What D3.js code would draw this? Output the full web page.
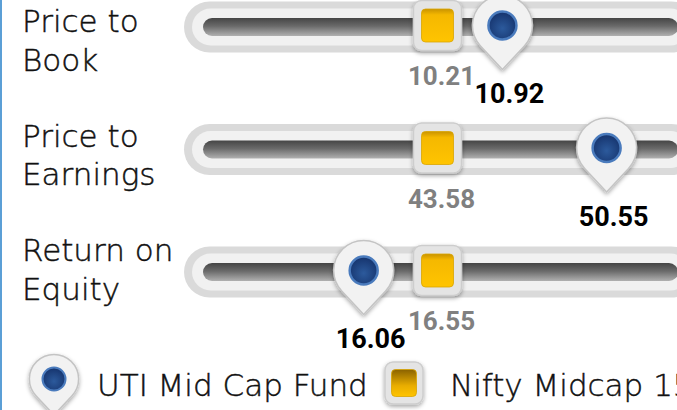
<!DOCTYPE html>
<html lang="en">
<head>
  <meta charset="UTF-8">
  <title>Valuation sliders</title>
  <script src="https://d3js.org/d3.v7.min.js"></script>
  <style>
    body { margin: 0; background: #fff; }
    svg { display: block; }
    .label { font-family: "DejaVu Sans ExtraLight", "DejaVu Sans", sans-serif; font-weight: 200; font-size: 31px; fill: #111; stroke: #111; stroke-width: 0.45; }
    .val { font-family: Roboto, "Liberation Sans", sans-serif; font-weight: 700; }
  </style>
</head>
<body>
<div id="chart"></div>
<script>
// data
const metrics = ["Price to Book", "Price to Earnings", "Return on Equity"];
const labelLines = [["Price to", "Book"], ["Price to", "Earnings"], ["Return on", "Equity"]];
const fundValues = [10.92, 50.55, 16.06];   // UTI Mid Cap Fund
const benchValues = [10.21, 43.58, 16.55];  // Nifty Midcap 150
const domainMin = [7.69, 34.08, 15.02];
const domainMax = [12.73, 53.08, 18.08];
const seriesNames = ["UTI Mid Cap Fund", "Nifty Midcap 150"];

const width = 677;
const height = 410;

const svg = d3.select("#chart")
  .append("svg")
  .attr("width", width)
  .attr("height", height);

const defs = svg.append("defs");

// groove gradient
const groove = defs.append("linearGradient")
  .attr("id", "groove").attr("x1", 0).attr("y1", 0).attr("x2", 0).attr("y2", 1);
groove.append("stop").attr("offset", "0%").attr("stop-color", "#454545");
groove.append("stop").attr("offset", "45%").attr("stop-color", "#6a6a6a");
groove.append("stop").attr("offset", "100%").attr("stop-color", "#b0b0b0");

// yellow gradients
const yel = defs.append("linearGradient")
  .attr("id", "yel").attr("x1", 0).attr("y1", 0).attr("x2", 0).attr("y2", 1);
yel.append("stop").attr("offset", "0%").attr("stop-color", "#c99300");
yel.append("stop").attr("offset", "18%").attr("stop-color", "#f5b800");
yel.append("stop").attr("offset", "100%").attr("stop-color", "#ffc400");

const yelLeg = defs.append("linearGradient")
  .attr("id", "yelLeg").attr("x1", 0).attr("y1", 0).attr("x2", 0).attr("y2", 1);
yelLeg.append("stop").attr("offset", "0%").attr("stop-color", "#8a6200");
yelLeg.append("stop").attr("offset", "60%").attr("stop-color", "#e9ad00");
yelLeg.append("stop").attr("offset", "100%").attr("stop-color", "#ffc400");

// blue dot
const blue = defs.append("radialGradient")
  .attr("id", "blue").attr("cx", "50%").attr("cy", "60%").attr("r", "55%");
blue.append("stop").attr("offset", "0%").attr("stop-color", "#2c5a9c");
blue.append("stop").attr("offset", "100%").attr("stop-color", "#173670");

// drop shadow
const shadow = defs.append("filter")
  .attr("id", "shadow").attr("x", "-30%").attr("y", "-30%").attr("width", "160%").attr("height", "160%");
shadow.append("feDropShadow")
  .attr("dx", 0).attr("dy", 2).attr("stdDeviation", 2)
  .attr("flood-color", "#000").attr("flood-opacity", 0.35);

// left border
svg.append("rect")
  .attr("x", 0).attr("y", 0).attr("width", 2).attr("height", height)
  .attr("fill", "#5b9fd6");

// scales
const y = d3.scalePoint().domain(metrics).range([27, 272]);
const yLabel = d3.scalePoint().domain(metrics).range([32, 261]);
const xRange = [207, 668];
const xScales = metrics.map((m, i) =>
  d3.scaleLinear().domain([domainMin[i], domainMax[i]]).range(xRange));

// pin path
function pinPath(cx, cy, R, d) {
  const a = Math.acos(R / d);
  const lx = cx - R * Math.sin(a), rx = cx + R * Math.sin(a);
  const ty = cy + R * Math.cos(a);
  return `M${lx},${ty} A${R},${R} 0 1 1 ${rx},${ty} L${cx},${cy + d} Z`;
}

function drawPin(g, cx, cy, s) {
  g.append("path")
    .attr("d", pinPath(cx, cy, 30 * s, 44 * s))
    .attr("fill", "#f2f2f2")
    .attr("stroke", "#c4c4c4")
    .attr("stroke-width", 1.5)
    .attr("filter", "url(#shadow)");
  g.append("circle")
    .attr("cx", cx).attr("cy", cy).attr("r", 14 * s)
    .attr("fill", "url(#blue)")
    .attr("stroke", "#4a7bbd")
    .attr("stroke-width", 2.5 * s);
}

function drawSquare(g, cx, cy, w, h, iw, ih, grad) {
  g.append("rect")
    .attr("x", cx - w / 2).attr("y", cy - h / 2)
    .attr("width", w).attr("height", h)
    .attr("rx", 8)
    .attr("fill", "#e4e4e4")
    .attr("stroke", "#cdcdcd")
    .attr("stroke-width", 1.5)
    .attr("filter", "url(#shadow)");
  g.append("rect")
    .attr("x", cx - iw / 2).attr("y", cy - ih / 2)
    .attr("width", iw).attr("height", ih)
    .attr("rx", 4)
    .attr("fill", grad)
    .attr("stroke", "#d9a400")
    .attr("stroke-width", 0.8);
}

// rows
metrics.forEach((m, i) => {
  const cy = y(m);
  const x = xScales[i];
  const row = svg.append("g");

  // left label
  const lbl = row.append("text")
    .attr("class", "label")
    .attr("x", 22)
    .attr("y", yLabel(m));
  labelLines[i].forEach((line, j) => {
    lbl.append("tspan").attr("x", 22).attr("dy", j === 0 ? 0 : 38.5).text(line);
  });

  // track
  row.append("rect")
    .attr("x", xRange[0] - 23).attr("y", cy - 25.5)
    .attr("width", xRange[1] - xRange[0] + 52).attr("height", 51)
    .attr("rx", 25.5).attr("fill", "#dadada");
  row.append("rect")
    .attr("x", xRange[0] - 15).attr("y", cy - 18.5)
    .attr("width", xRange[1] - xRange[0] + 36).attr("height", 37)
    .attr("rx", 18.5).attr("fill", "#f1f1f1");
  row.append("rect")
    .attr("x", xRange[0] - 4).attr("y", cy - 9)
    .attr("width", xRange[1] - xRange[0] + 14).attr("height", 18)
    .attr("rx", 9).attr("fill", "url(#groove)");

  const bx = x(benchValues[i]);
  const fx = x(fundValues[i]);
  const my = cy - 1.5;

  const marks = svg.append("g");
  drawSquare(marks, bx, my, 48, 50, 32, 33, "url(#yel)");
  drawPin(marks, fx, my, 1);

  // value labels
  svg.append("text")
    .attr("class", "val")
    .attr("x", bx + 4).attr("y", cy + 58)
    .attr("text-anchor", "middle")
    .attr("font-size", 26)
    .attr("fill", "#808080")
    .text(benchValues[i].toFixed(2));
  svg.append("text")
    .attr("class", "val")
    .attr("x", fx + 7).attr("y", cy + 76)
    .attr("text-anchor", "middle")
    .attr("font-size", 27)
    .attr("fill", "#000")
    .text(fundValues[i].toFixed(2));
});

// legend
const legend = svg.append("g");
drawPin(legend, 54, 379, 0.82);
legend.append("text")
  .attr("class", "label")
  .attr("x", 97).attr("y", 396)
  .text(seriesNames[0]);
drawSquare(legend, 404, 383, 38, 42, 25, 27, "url(#yelLeg)");
legend.append("text")
  .attr("class", "label")
  .attr("x", 450).attr("y", 396)
  .text(seriesNames[1]);
</script>
</body>
</html>
